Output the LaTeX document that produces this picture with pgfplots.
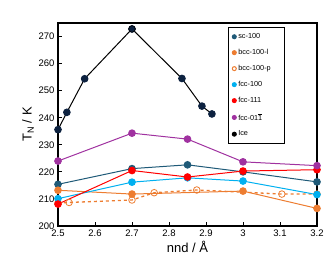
\documentclass[border=0pt]{standalone}
\usepackage{pgfplots}
\pgfplotsset{compat=1.18}
\usepackage{fontspec}
\setmainfont{Liberation Sans}
\definecolor{cSC}{RGB}{31,90,120}
\definecolor{cBCC}{RGB}{237,125,49}
\definecolor{cF100}{RGB}{0,176,240}
\definecolor{cF111}{RGB}{255,0,0}
\definecolor{cF011}{RGB}{160,50,160}
\definecolor{cIce}{RGB}{13,34,64}
\begin{document}
\begin{tikzpicture}
\begin{axis}[
  scale only axis, width=259pt, height=203pt,
  xmin=2.5, xmax=3.2, ymin=200, ymax=275,
  xtick={2.5,2.6,...,3.2}, ytick={200,210,...,270},
  xticklabels={2.5,2.6,2.7,2.8,2.9,3,3.1,3.2},
  /pgf/number format/assume math mode=true,
  tick label style={font=\fontsize{9.5}{11}\selectfont},
  tick align=inside, xtick pos=bottom, ytick pos=left,
  major tick length=4pt,
  axis line style={line width=1.3pt},
  tick style={line width=1pt, black},
  xlabel={nnd / Å}, ylabel={T\textsubscript{N} / K},
  label style={font=\fontsize{13}{15}\selectfont},
  xlabel style={yshift=2pt},
  ylabel style={yshift=-2pt},
  legend cell align=left,
  legend style={at={(0.656,0.98)}, anchor=north west, draw=black, line width=0.8pt,
    font=\fontsize{7.3}{9}\selectfont, row sep=5.2pt, inner xsep=4pt, inner ysep=4pt,
    nodes={text width=40pt}},
  every axis plot/.append style={line width=1pt},
]
% sc-100
\addplot[cSC, mark=*, mark size=3.3pt, mark options={fill=cSC}, forget plot] coordinates {
(2.5,215.4) (2.7,221.2) (2.85,222.6) (3.0,220.0) (3.2,216.3)};
% bcc-100-l
\addplot[cBCC, mark=*, mark size=3.3pt, mark options={fill=cBCC}, forget plot] coordinates {
(2.5,213.2) (2.7,211.8) (3.0,212.9) (3.2,206.5)};
% bcc-100-p
\addplot[cBCC, line width=1.3pt, dashed, mark=o, mark size=3.3pt, mark options={solid, line width=0.8pt}, forget plot] coordinates {
(2.5,208.5) (2.53,208.7) (2.7,209.6) (2.76,212.3) (2.875,213.3) (3.105,211.8) (3.2,211.8)};
% fcc-100
\addplot[cF100, mark=*, mark size=3.3pt, mark options={fill=cF100}, forget plot] coordinates {
(2.5,210.1) (2.7,216.2) (2.85,217.8) (3.0,216.6) (3.2,211.6)};
% fcc-111
\addplot[cF111, mark=*, mark size=3.3pt, mark options={fill=cF111}, forget plot] coordinates {
(2.5,208.1) (2.7,220.5) (2.85,218.1) (3.0,220.3) (3.2,220.8)};
% fcc-011
\addplot[cF011, mark=*, mark size=3.3pt, mark options={fill=cF011}, forget plot] coordinates {
(2.5,224.0) (2.7,234.3) (2.85,232.1) (3.0,223.7) (3.2,222.3)};
% Ice
\addplot[black, mark=*, mark size=3.3pt, mark options={fill=cIce, draw=cIce}, forget plot] coordinates {
(2.5,235.6) (2.524,242.0) (2.572,254.4) (2.7,272.8) (2.835,254.5) (2.889,244.3) (2.916,241.4)};
\addplot[only marks, mark=o, mark size=3.3pt, black, line width=0.6pt, fill=white, mark options={fill=white}, forget plot] coordinates {(2.7,272.8)};
% legend
\addlegendimage{only marks, mark=*, mark size=2pt, color=cSC}
\addlegendentry{sc-100}
\addlegendimage{only marks, mark=*, mark size=2pt, color=cBCC}
\addlegendentry{bcc-100-l}
\addlegendimage{only marks, mark=o, mark size=2pt, color=cBCC}
\addlegendentry{bcc-100-p}
\addlegendimage{only marks, mark=*, mark size=2pt, color=cF100}
\addlegendentry{fcc-100}
\addlegendimage{only marks, mark=*, mark size=2pt, color=cF111}
\addlegendentry{fcc-111}
\addlegendimage{only marks, mark=*, mark size=2pt, color=cF011}
\addlegendentry{fcc-01$\overline{\mbox{1}}$}
\addlegendimage{only marks, mark=*, mark size=2pt, color=black}
\addlegendentry{Ice}
\end{axis}
\path ([xshift=-58pt,yshift=-46pt]current axis.south west) rectangle ([xshift=17pt,yshift=23pt]current axis.north east);
\end{tikzpicture}
\end{document}
